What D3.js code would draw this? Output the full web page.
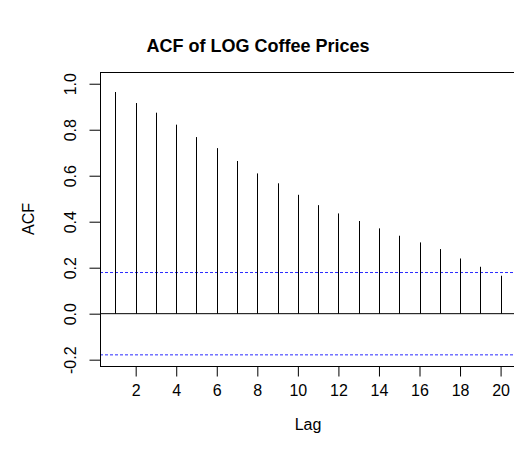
<!DOCTYPE html>
<html>
<head>
<meta charset="utf-8">
<title>ACF of LOG Coffee Prices</title>
<script src="https://d3js.org/d3.v7.min.js"></script>
<style>
body {margin:0; background:white;}
svg text {font-family: "Liberation Sans", Arial, Helvetica, sans-serif; fill:black;}
</style>
</head>
<body>
<svg width="514" height="456"></svg>
<script>
// lags and autocorrelations
var lags = [1,2,3,4,5,6,7,8,9,10,11,12,13,14,15,16,17,18,19,20];
var acfValues = [0.964,0.916,0.874,0.822,0.768,0.720,0.664,0.610,0.567,0.517,
                 0.472,0.436,0.403,0.371,0.339,0.310,0.281,0.240,0.204,0.165];
var confLimit = 0.179;
var xTicks = [2,4,6,8,10,12,14,16,18,20];
var yTicks = [-0.2,0.0,0.2,0.4,0.6,0.8,1.0];

var plotLeft = 100, plotTop = 72, plotRight = 516, plotBottom = 366;

var x = d3.scaleLinear().domain([0.24, 20.76]).range([plotLeft, plotRight]);
var y = d3.scaleLinear().domain([-0.2275, 1.051]).range([plotBottom, plotTop]);

var svg = d3.select("svg");

// confidence bands
svg.selectAll(".conf")
  .data([confLimit, -confLimit])
  .enter()
  .append("line")
  .attr("x1", plotLeft).attr("x2", plotRight)
  .attr("y1", function(d) {return y(d);})
  .attr("y2", function(d) {return y(d);})
  .attr("stroke", "#2b2bff")
  .attr("stroke-width", 1)
  .attr("stroke-dasharray", "3,2");

// zero line
svg.append("line")
  .attr("x1", plotLeft).attr("x2", plotRight)
  .attr("y1", y(0)).attr("y2", y(0))
  .attr("stroke", "black");

// spikes
svg.selectAll(".spike")
  .data(lags)
  .enter()
  .append("line")
  .attr("x1", function(d) {return Math.round(x(d)) + 0.5;})
  .attr("x2", function(d) {return Math.round(x(d)) + 0.5;})
  .attr("y1", y(0))
  .attr("y2", function(d, i) {return y(acfValues[i]);})
  .attr("stroke", "black")
  .attr("stroke-width", 1);

// box
svg.append("rect")
  .attr("x", plotLeft + 0.5).attr("y", plotTop + 0.5)
  .attr("width", plotRight - plotLeft).attr("height", plotBottom - plotTop)
  .attr("fill", "none")
  .attr("stroke", "black");

// axes
var xAxis = d3.axisBottom(x).tickValues(xTicks).tickSize(10.5).tickPadding(8)
  .tickFormat(d3.format("d"));
var gx = svg.append("g")
  .attr("transform", "translate(0," + plotBottom + ")")
  .call(xAxis);
gx.select(".domain").remove();
gx.selectAll("text").style("font-size", "16px");

var yAxis = d3.axisLeft(y).tickValues(yTicks).tickSize(10.5).tickPadding(6)
  .tickFormat(function(d) {return d3.format(".1f")(d).replace("\u2212", "-");});
var gy = svg.append("g")
  .attr("transform", "translate(" + plotLeft + ",0)")
  .call(yAxis);
gy.select(".domain").remove();
gy.selectAll(".tick text")
  .style("font-size", "16px")
  .attr("text-anchor", "middle")
  .attr("x", -30)
  .attr("dy", "0.35em")
  .attr("transform", "rotate(-90,-30,0)");

// titles
svg.append("text")
  .attr("x", 258).attr("y", 52)
  .attr("text-anchor", "middle")
  .style("font-size", "18px").style("font-weight", "bold")
  .text("ACF of LOG Coffee Prices");

svg.append("text")
  .attr("x", 308).attr("y", 430)
  .attr("text-anchor", "middle")
  .style("font-size", "16px")
  .text("Lag");

svg.append("text")
  .attr("transform", "translate(34,219) rotate(-90)")
  .attr("text-anchor", "middle")
  .style("font-size", "16px")
  .text("ACF");
</script>
</body>
</html>
